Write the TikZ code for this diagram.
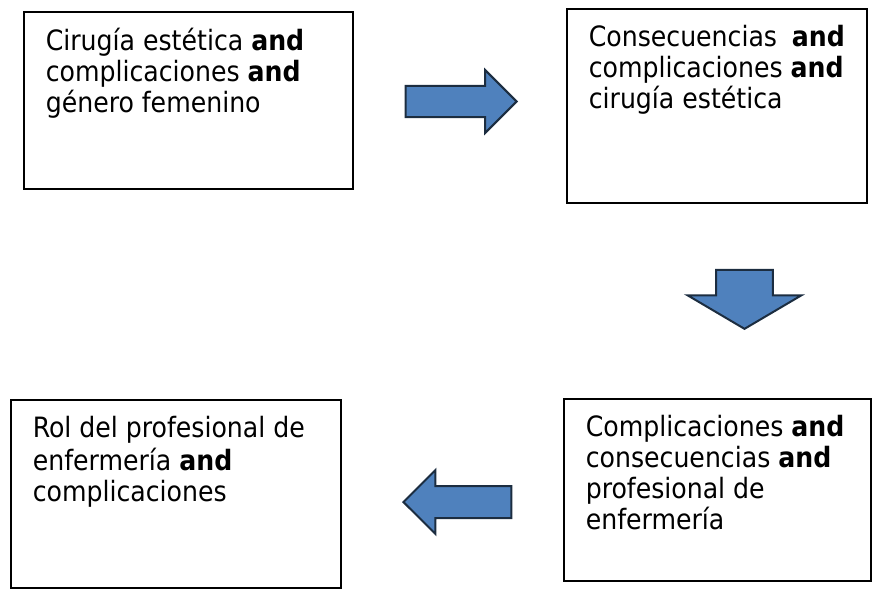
\documentclass[tikz,border=0pt]{standalone}
\usepackage{fontspec}
\setmainfont{DejaVu Sans Condensed}[BoldFont={DejaVu Sans Condensed Bold}]
\usepackage{tikz}
\usetikzlibrary{positioning,shapes,arrows}
\definecolor{arrowfill}{RGB}{79,129,189}
\definecolor{arrowline}{RGB}{28,45,64}
\tikzstyle{search} = [rectangle, draw, line width=1.2pt, anchor=north west, inner xsep=16.5pt, inner ysep=12pt, font=\fontsize{21pt}{23.25pt}\selectfont]
\tikzstyle{bigarrow} = [single arrow, draw=arrowline, fill=arrowfill, line width=1.5pt, single arrow head indent=0pt, inner xsep=0pt, anchor=tip]
\newcommand{\searchbox}[3]{\parbox[t][#2][t]{#1}{\raggedright\strut #3}}

\begin{document}
\begin{tikzpicture}[x=0.75pt, y=-0.75pt]
\useasboundingbox (0,0) rectangle (877,592);
% Top row
	%	First search
    \node [search] (cirugia) at (23,11) {\searchbox{213.75pt}{108.75pt}{Cirugía estética \textbf{and}\\ complicaciones \textbf{and}\\ género femenino}};
    %	Second search
    \node [search] (consecuencias) at (566,8) {\searchbox{192pt}{121.5pt}{Consecuencias \ \textbf{and}\\ complicaciones \textbf{and}\\ cirugía estética}};
% Bottom row
    \node [search] (complicaciones) at (563,398) {\searchbox{197.25pt}{112.5pt}{Complicaciones \textbf{and}\\ consecuencias \textbf{and}\\ profesional de\\ enfermería}};
    \node [search] (rol) at (10,399) {\searchbox{214.5pt}{117pt}{Rol del profesional de\\ enfermería \textbf{and}\\ complicaciones}};
% Block arrows
    \node [bigarrow, minimum height=83.25pt, inner ysep=10.9pt, single arrow head extend=12pt] (toright) at (518,101.5) {};
    \node [bigarrow, rotate=-90, minimum height=44.25pt, inner ysep=20.6pt, single arrow head extend=21.4pt, single arrow tip angle=119] (todown) at (744.5,330) {};
    \node [bigarrow, rotate=180, minimum height=81pt, inner ysep=11.25pt, single arrow head extend=12pt] (toleft) at (402,502) {};
\end{tikzpicture}
\end{document}
